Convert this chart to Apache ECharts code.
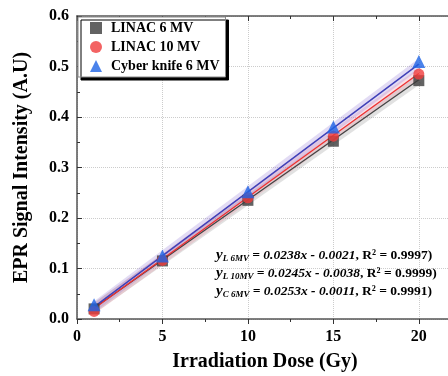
<!DOCTYPE html>
<html><head><meta charset="utf-8">
<script src="https://cdn.jsdelivr.net/npm/echarts@6/dist/echarts.min.js"></script>
<style>html,body{margin:0;padding:0;background:#fff}#c{width:448px;height:376px}</style>
</head><body><div id="c"></div>
<script>
var doses = [1, 5, 10, 15, 20];
var linac6 = [0.020, 0.115, 0.235, 0.352, 0.472];
var linac10 = [0.015, 0.116, 0.240, 0.362, 0.485];
var cyber6 = [0.028, 0.125, 0.252, 0.380, 0.510];
// fit line endpoints (x = 1 and x = 20), read from the printed equations
var fitL6 = [[1, 0.0217], [20, 0.4739]];
var fitL10 = [[1, 0.0207], [20, 0.4862]];
var fitC6 = [[1, 0.0242], [20, 0.5049]];
var xTicks = [0, 5, 10, 15, 20];
var yTicks = [0.0, 0.1, 0.2, 0.3, 0.4, 0.5, 0.6];
var names = ['LINAC 6 MV', 'LINAC 10 MV', 'Cyber knife 6 MV'];

var font = 'Liberation Serif';
function pts(ys) { return doses.map(function (d, i) { return [d, ys[i]]; }); }

var chart = echarts.init(document.getElementById('c'));
function axisBase(inside) {
  return {
    axisLine: { show: true, onZero: false, lineStyle: { color: '#555', width: 1.5 } },
    axisTick: { show: true, inside: inside, length: 5, lineStyle: { color: '#333' } },
    minorTick: { show: true, splitNumber: 2, length: 3, lineStyle: { color: '#333' } }
  };
}
chart.setOption({
  animation: false,
  grid: { left: 77, top: 16, width: 376, height: 303, outerBoundsMode: 'none', containLabel: false },
  legend: {
    left: 78, top: 17, orient: 'vertical',
    data: [
      { name: names[0], icon: 'rect' },
      { name: names[1], icon: 'circle' },
      { name: names[2], icon: 'triangle' }
    ],
    itemWidth: 12, itemHeight: 12, itemGap: 5,
    padding: [4, 6, 4, 12],
    backgroundColor: '#fff', borderColor: '#888', borderWidth: 1,
    shadowColor: '#000', shadowOffsetX: 3, shadowOffsetY: 3, shadowBlur: 0,
    textStyle: { fontFamily: font, fontWeight: 'bold', fontSize: 14, color: '#000', padding: [0, 0, 0, 4] }
  },
  xAxis: [Object.assign(axisBase(false), {
    type: 'value', min: 0, max: 22, interval: 5,
    axisLabel: { fontFamily: font, fontWeight: 'bold', fontSize: 16, color: '#000', margin: 10,
      customValues: xTicks },
    splitLine: { show: true, lineStyle: { color: '#ccc', type: 'dotted' } },
    name: 'Irradiation Dose (Gy)', nameLocation: 'middle', nameGap: 33,
    nameTextStyle: { fontFamily: font, fontWeight: 'bold', fontSize: 20, color: '#000' }
  }), Object.assign(axisBase(true), {
    type: 'value', min: 0, max: 22, interval: 5, position: 'top',
    axisLabel: { show: false }, splitLine: { show: false }
  })],
  yAxis: Object.assign(axisBase(true), {
    type: 'value', min: 0, max: 0.6, interval: 0.1,
    axisLabel: { fontFamily: font, fontWeight: 'bold', fontSize: 16, color: '#000', margin: 8,
      customValues: yTicks,
      formatter: function (v) { return v.toFixed(1); } },
    splitLine: { show: true, lineStyle: { color: '#ccc', type: 'dotted' } },
    name: 'EPR Signal Intensity (A.U)', nameLocation: 'middle', nameGap: 45,
    nameTextStyle: { fontFamily: font, fontWeight: 'bold', fontSize: 20, color: '#000' }
  }),
  series: [
    { type: 'line', data: fitL6, symbol: 'none', silent: true, lineStyle: { width: 9, color: 'rgba(120,120,120,0.22)' }, z: 1 },
    { type: 'line', data: fitL10, symbol: 'none', silent: true, lineStyle: { width: 9, color: 'rgba(235,120,140,0.22)' }, z: 1 },
    { type: 'line', data: fitC6, symbol: 'none', silent: true, lineStyle: { width: 9, color: 'rgba(140,110,210,0.25)' }, z: 1 },
    { type: 'line', data: fitL6, symbol: 'none', silent: true, lineStyle: { width: 1.3, color: '#444' }, z: 2 },
    { type: 'line', data: fitL10, symbol: 'none', silent: true, lineStyle: { width: 1.3, color: '#f03030' }, z: 2 },
    { type: 'line', data: fitC6, symbol: 'none', silent: true, lineStyle: { width: 1.5, color: '#4040b8' }, z: 2 },
    { name: names[0], type: 'scatter', data: pts(linac6), symbol: 'rect', symbolSize: 11, itemStyle: { color: '#3c3c3c' }, z: 3 },
    { name: names[1], type: 'scatter', data: pts(linac10), symbol: 'circle', symbolSize: 11, itemStyle: { color: '#f03c3c' }, z: 4 },
    { name: names[2], type: 'scatter', data: pts(cyber6), symbol: 'triangle', symbolSize: 13, itemStyle: { color: '#1e64e6' }, z: 5 }
  ],
  graphic: [0, 1, 2].map(function (i) {
    var subs = ['L 6MV', 'L 10MV', 'C 6MV'];
    var eqs = ['= 0.0238x - 0.0021', '= 0.0245x - 0.0038', '= 0.0253x - 0.0011'];
    var rs = ['0.9997', '0.9999', '0.9991'];
    return {
      type: 'text', left: 216, top: 248 + i * 18, z: 10,
      style: {
        text: '{y|y}{s|' + subs[i] + '}{e| ' + eqs[i] + '}{r|, R² = ' + rs[i] + ')}',
        rich: {
          y: { fontFamily: font, fontStyle: 'italic', fontWeight: 'bold', fontSize: 15, fill: '#000' },
          s: { fontFamily: font, fontStyle: 'italic', fontWeight: 'bold', fontSize: 9, fill: '#000', padding: [6, 0, 0, 0] },
          e: { fontFamily: font, fontStyle: 'italic', fontWeight: 'bold', fontSize: 13.5, fill: '#000' },
          r: { fontFamily: font, fontWeight: 'bold', fontSize: 13.5, fill: '#000' }
        }
      }
    };
  })
});
</script></body></html>
